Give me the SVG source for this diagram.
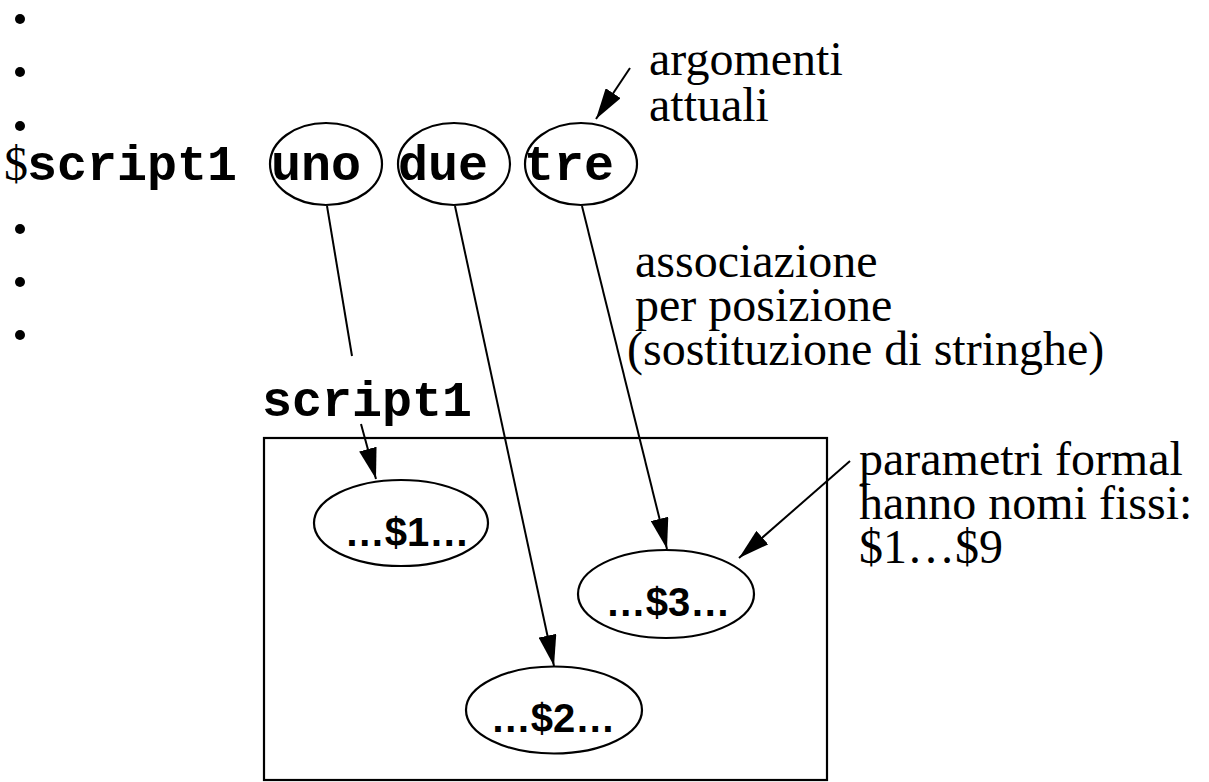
<svg xmlns="http://www.w3.org/2000/svg" width="1209" height="782" viewBox="0 0 1209 782">
<defs>
<style>
.mono{font-family:"Liberation Mono","Courier New",monospace;font-weight:bold;font-size:50px;fill:#000}
.dollar{font-family:"Liberation Serif","Times New Roman",serif;font-weight:normal;font-size:48px;fill:#000}
.serif{font-family:"Liberation Serif","Times New Roman",serif;font-size:48px;fill:#000}
.sans{font-family:"Liberation Sans",Arial,sans-serif;font-weight:bold;font-size:40px;fill:#000;text-anchor:middle}
.shape{fill:none;stroke:#000;stroke-width:2.2}
.conn{fill:none;stroke:#000;stroke-width:2}
</style>
<marker id="ah" markerUnits="userSpaceOnUse" markerWidth="32" markerHeight="18" refX="31" refY="9" orient="auto">
<path d="M0,0 L31,9 L0,18 z" fill="#000"/>
</marker>
</defs>
<rect width="1209" height="782" fill="#fff"/>

<g id="bullets" fill="#000">
<circle cx="20" cy="19" r="5"/>
<circle cx="20" cy="72" r="5"/>
<circle cx="20" cy="126" r="5"/>
<circle cx="20" cy="229" r="5"/>
<circle cx="20" cy="282" r="5"/>
<circle cx="20" cy="335" r="5"/>
</g>

<g id="command">
<text class="dollar" x="4" y="180">$</text>
<text class="mono" x="27" y="180">script1</text>
</g>

<g id="uno">
<ellipse class="shape" cx="326" cy="164" rx="56" ry="41"/>
<text class="mono" x="271" y="180">uno</text>
</g>
<g id="due">
<ellipse class="shape" cx="454" cy="164" rx="56" ry="41"/>
<text class="mono" x="398" y="180">due</text>
</g>
<g id="tre">
<ellipse class="shape" cx="581" cy="164" rx="56" ry="41"/>
<text class="mono" x="524" y="180">tre</text>
</g>

<g id="label-argomenti">
<text class="serif"><tspan x="649" y="75">argomenti</tspan><tspan x="649" y="121">attuali</tspan></text>
</g>

<g id="label-associazione">
<text class="serif"><tspan x="635" y="277">associazione</tspan><tspan x="635" y="321">per posizione</tspan><tspan x="627" y="365">(sostituzione di stringhe)</tspan></text>
</g>

<g id="label-script1">
<text class="mono" x="262" y="416">script1</text>
</g>

<g id="script1-box">
<rect class="shape" x="264" y="438" width="563" height="342"/>
</g>

<g id="p1">
<ellipse class="shape" cx="401" cy="523" rx="87" ry="43"/>
<text class="sans" x="407" y="546">…$1…</text>
</g>
<g id="p3">
<ellipse class="shape" cx="666" cy="594" rx="88" ry="44"/>
<text class="sans" x="668" y="616">…$3…</text>
</g>
<g id="p2">
<ellipse class="shape" cx="554" cy="710" rx="88" ry="43.5"/>
<text class="sans" x="553" y="732">…$2…</text>
</g>

<g id="label-parametri">
<text class="serif"><tspan x="859" y="475">parametri formal</tspan><tspan x="859" y="519">hanno nomi fissi:</tspan><tspan x="859" y="563">$1…$9</tspan></text>
</g>

<g id="connectors">
<line class="conn" x1="327" y1="206" x2="352" y2="356"/>
<line class="conn" x1="361" y1="424" x2="376" y2="479" marker-end="url(#ah)"/>
<line class="conn" x1="455" y1="206" x2="554" y2="666" marker-end="url(#ah)"/>
<line class="conn" x1="582" y1="206" x2="667" y2="549" marker-end="url(#ah)"/>
<line class="conn" x1="630" y1="68" x2="596" y2="119" marker-end="url(#ah)"/>
<line class="conn" x1="850" y1="461" x2="739" y2="558" marker-end="url(#ah)"/>
</g>
</svg>
